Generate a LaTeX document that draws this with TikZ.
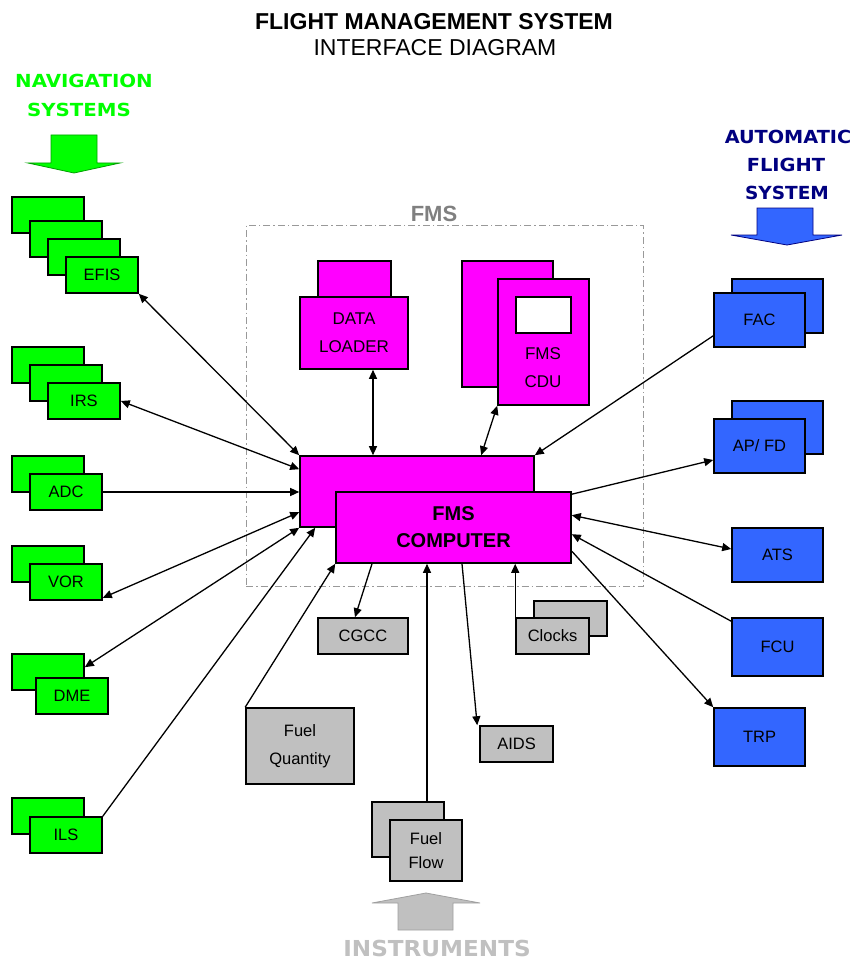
\documentclass[tikz,border=0pt]{standalone}
\usepackage{fontspec}
\setmainfont{Liberation Sans}
\newfontfamily\heavyfont{DejaVu Sans}
\usetikzlibrary{arrows.meta,calc}
\definecolor{navg}{HTML}{00FF00}
\definecolor{navgd}{HTML}{00A000}
\definecolor{fmsm}{HTML}{FF00FF}
\definecolor{afsb}{HTML}{3366FF}
\definecolor{afsn}{HTML}{000080}
\definecolor{instg}{HTML}{C0C0C0}
\definecolor{instgd}{HTML}{A0A0A0}
\definecolor{fmsg}{HTML}{808080}
\tikzset{
  box/.style={draw=black,line width=1.6pt,inner sep=0pt,align=center,font=\fontsize{16.5}{24}\selectfont},
  conn/.style={line width=1.3pt,-{Triangle[length=9pt,width=8pt]}},
  dbl/.style={line width=1.3pt,{Triangle[length=9pt,width=8pt]}-{Triangle[length=9pt,width=8pt]}},
  hdr/.style={font=\heavyfont\fontsize{18}{28}\bfseries\selectfont,inner sep=0pt},
}
\newcommand\mybox[7]{\node[box,fill=#6,minimum width={(#4-#2)*1pt},minimum height={(#5-#3)*1pt}] (#1) at ({(#2+#4)/2},{(#3+#5)/2}) {#7};}
\begin{document}
\begin{tikzpicture}[x=1pt,y=-1pt]
\useasboundingbox[fill=white] (0,0) rectangle (858,960);
% titles
\node[font=\fontsize{23}{28}\bfseries\selectfont,inner sep=0pt] (title) at (434,22) {FLIGHT MANAGEMENT SYSTEM};
\node[font=\fontsize{23}{28}\selectfont,inner sep=0pt] (subtitle) at (435,48) {INTERFACE DIAGRAM};
% navigation header
\node[hdr,text=navg] (navt1) at (84,81) {\scalebox{1.1}[1]{NAVIGATION}};
\node[hdr,text=navg] (navt2) at (79,110) {\scalebox{1.1}[1]{SYSTEMS}};
\draw[fill=navg,draw=navgd,line width=0.8pt] (51,135)--(97,135)--(97,163)--(120,163)--(74,173)--(28,163)--(51,163)--cycle;
% automatic flight system header
\node[hdr,text=afsn] (afst1) at (788,137) {\scalebox{1.07}[1]{AUTOMATIC}};
\node[hdr,text=afsn] (afst2) at (786,165) {\scalebox{1.08}[1]{FLIGHT}};
\node[hdr,text=afsn] (afst3) at (787,193) {\scalebox{1.03}[1]{SYSTEM}};
\draw[fill=afsb,draw=afsn,line width=0.8pt] (757,208)--(813,208)--(813,235)--(842,235)--(787,245)--(731,235)--(757,235)--cycle;
% instruments footer
\draw[fill=instg,draw=instgd,line width=0.8pt] (398,930)--(453,930)--(453,903)--(480,903)--(426,893)--(372,903)--(398,903)--cycle;
\node[font=\heavyfont\fontsize{22}{28}\bfseries\selectfont,text=instg,inner sep=0pt] (instt) at (437,948) {\scalebox{1.05}[1]{INSTRUMENTS}};
% FMS frame
\node[draw=fmsg!80,line width=1pt,dash pattern=on 7pt off 3pt on 1.5pt off 3pt,minimum width=397pt,minimum height=361pt,inner sep=0pt] (fmsframe) at (444.5,405.5) {};
\node[font=\fontsize{22}{26}\bfseries\selectfont,text=fmsg,inner sep=0pt] (fmst) at (434,214) {FMS};
% navigation boxes
\mybox{efisA}{12}{197}{84}{233}{navg}{}
\mybox{efisB}{30}{221}{102}{257}{navg}{}
\mybox{efisC}{48}{239}{120}{275}{navg}{}
\mybox{efisD}{66}{257}{138}{293}{navg}{EFIS}
\mybox{irsA}{12}{347}{84}{383}{navg}{}
\mybox{irsB}{30}{365}{102}{401}{navg}{}
\mybox{irsC}{48}{383}{120}{419}{navg}{IRS}
\mybox{adcA}{12}{456}{84}{492}{navg}{}
\mybox{adcB}{30}{474}{102}{510}{navg}{ADC}
\mybox{vorA}{12}{546}{84}{582}{navg}{}
\mybox{vorB}{30}{564}{102}{600}{navg}{VOR}
\mybox{dmeA}{12}{654}{84}{690}{navg}{}
\mybox{dmeB}{36}{678}{108}{714}{navg}{DME}
\mybox{ilsA}{12}{798}{84}{834}{navg}{}
\mybox{ilsB}{30}{817}{102}{853}{navg}{ILS}
% FMS boxes
\mybox{dlA}{318}{261}{391}{297}{fmsm}{}
\node[box,fill=fmsm,minimum width=108pt,minimum height=72pt,font=\fontsize{17}{28}\selectfont] (dl) at (354,333) {DATA\\LOADER};
\mybox{cduA}{462}{261}{553}{387}{fmsm}{}
\mybox{cdu}{498}{279}{589}{405}{fmsm}{}
\mybox{cduscr}{516}{297}{571}{333}{white}{}
\node[align=center,font=\fontsize{17}{28}\selectfont,inner sep=0pt] (cdut) at (543,368) {FMS\\CDU};
\mybox{compB}{300}{456}{534}{527}{fmsm}{}
\node[box,fill=fmsm,minimum width=235pt,minimum height=71pt,font=\fontsize{20}{27}\bfseries\selectfont] (comp) at (453.5,527.5) {FMS\\COMPUTER};
% automatic flight boxes
\mybox{facA}{732}{279}{823}{333}{afsb}{}
\mybox{fac}{714}{293}{805}{347}{afsb}{FAC}
\mybox{apA}{732}{401}{823}{454}{afsb}{}
\mybox{ap}{714}{419}{805}{473}{afsb}{AP/ FD}
\mybox{ats}{732}{528}{823}{582}{afsb}{ATS}
\mybox{fcu}{732}{618}{823}{676}{afsb}{FCU}
\mybox{trp}{714}{708}{805}{766}{afsb}{TRP}
% instrument boxes
\mybox{cgcc}{318}{618}{408}{654}{instg}{CGCC}
\mybox{clkA}{534}{601}{607}{636}{instg}{}
\mybox{clk}{516}{618}{589}{654}{instg}{Clocks}
\node[box,fill=instg,minimum width=108pt,minimum height=76pt,font=\fontsize{16.5}{28}\selectfont] (fq) at (300,746) {Fuel\\Quantity};
\mybox{aids}{480}{726}{553}{762}{instg}{AIDS}
\mybox{ffA}{372}{802}{444}{857}{instg}{}
\node[box,fill=instg,minimum width=72pt,minimum height=61pt,font=\fontsize{16.5}{24}\selectfont] (ff) at (426,850.5) {Fuel\\Flow};
% connectors: left
\draw[dbl] (efisD.south east) -- (compB.north west);
\draw[dbl] (irsC.east) -- ([yshift=-14pt]compB.north west);
\draw[conn] (adcB.east) -- (adcB.east -| compB.west);
\draw[dbl] ([yshift=3pt]vorB.south east) -- ([yshift=-57pt]compB.north west);
\draw[dbl] ([yshift=-14pt]dmeA.north east) -- (compB.south west);
\draw[conn] (ilsB.north east) -- ([xshift=16pt]compB.south west);
\draw[conn] (fq.north west) -- (comp.south west);
% top
\draw[dbl] ([xshift=19pt]dl.south) -- ([xshift=19pt]dl.south |- compB.north);
\draw[dbl] (cdu.south west) -- ([xshift=182pt]compB.north west);
% right
\draw[conn] ([yshift=12pt]fac.south west) -- (compB.north east);
\draw[conn] ([yshift=-3pt]comp.north east) -- ([yshift=-14pt]ap.west);
\draw[dbl] ([yshift=-24pt]comp.north east) -- ([yshift=6pt]ats.west);
\draw[conn] ([yshift=-4pt]fcu.north west) -- ([yshift=-43pt]comp.north east);
\draw[conn] ([yshift=-60pt]comp.north east) -- (trp.north west);
% bottom
\draw[conn] ([xshift=-81.5pt]comp.south) -- ([xshift=-8pt]cgcc.north);
\draw[conn] ([xshift=19pt]ffA.north) -- ([xshift=19pt]ffA.north |- comp.south);
\draw[conn] ([xshift=8.5pt]comp.south) -- ([xshift=-2pt]aids.north west);
\draw[conn] (clk.north west) -- (clk.north west |- comp.south);
\end{tikzpicture}
\end{document}
